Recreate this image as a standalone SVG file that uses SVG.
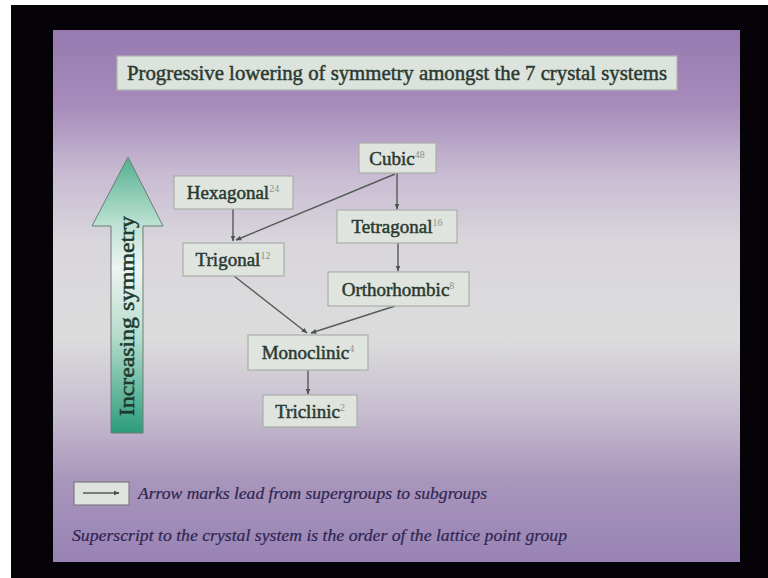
<svg xmlns="http://www.w3.org/2000/svg" width="768" height="578" viewBox="0 0 768 578">
  <defs>
    <linearGradient id="slideBg" x1="0" y1="0" x2="0" y2="1">
      <stop offset="0" stop-color="#967ab0"/>
      <stop offset="0.14" stop-color="#a68bbb"/>
      <stop offset="0.27" stop-color="#c8bbd2"/>
      <stop offset="0.4" stop-color="#d9d6dc"/>
      <stop offset="0.58" stop-color="#dcdcdc"/>
      <stop offset="0.72" stop-color="#c6bccf"/>
      <stop offset="0.85" stop-color="#a895bb"/>
      <stop offset="1" stop-color="#9883b4"/>
    </linearGradient>
    <linearGradient id="arrowFill" x1="0" y1="0" x2="0" y2="1">
      <stop offset="0" stop-color="#52b08f"/>
      <stop offset="0.25" stop-color="#bfe2d4"/>
      <stop offset="0.4" stop-color="#eef4f1"/>
      <stop offset="0.65" stop-color="#b5dccd"/>
      <stop offset="1" stop-color="#2b9c7a"/>
    </linearGradient>
    <marker id="head" viewBox="0 0 10 10" refX="9" refY="5" markerWidth="6" markerHeight="6" orient="auto" markerUnits="userSpaceOnUse">
      <path d="M0,1 L10,5 L0,9 z" fill="#4b524b"/>
    </marker>
    <style>
      .box { fill: #dfe5de; stroke: #a9ada9; stroke-width: 1.2; }
      .lbl { font-family: "Liberation Serif", "Times New Roman", serif; font-size: 19px; fill: #2b3a31; stroke: #2b3a31; stroke-width: 0.5; text-anchor: middle; }
      .sup { font-size: 10px; fill: #8a918a; stroke: none; }
      .edge { stroke: #555c55; stroke-width: 1.4; fill: none; marker-end: url(#head); }
      .note { font-family: "Liberation Serif", "DejaVu Serif", serif; font-style: italic; font-size: 16px; fill: #2f2652; stroke: #2f2652; stroke-width: 0.2; }
    </style>
  </defs>

  <!-- screen surround -->
  <rect x="0" y="0" width="768" height="578" fill="#ffffff"/>
  <rect x="11" y="5" width="757" height="573" fill="#050308"/>
  <!-- slide -->
  <rect x="53" y="30" width="687" height="532" fill="url(#slideBg)"/>

  <!-- title -->
  <g id="title">
    <rect x="117" y="56" width="560" height="34" fill="#dce3dc" stroke="#b0b3b0" stroke-width="1.2"/>
    <text x="397" y="80" text-anchor="middle" font-family="'Liberation Serif', 'Times New Roman', serif" font-size="20" fill="#2b3a31" stroke="#2b3a31" stroke-width="0.45" textLength="540" lengthAdjust="spacingAndGlyphs">Progressive lowering of symmetry amongst the 7 crystal systems</text>
  </g>

  <!-- big arrow -->
  <g id="symmetry-arrow">
    <path d="M128,157 L163,226 L143,226 L143,433 L111,433 L111,226 L92,226 Z" fill="url(#arrowFill)" stroke="#6d7d74" stroke-width="1"/>
    <text transform="translate(134,316) rotate(-90)" text-anchor="middle" font-family="'Liberation Serif', 'Times New Roman', serif" font-size="21" fill="#1d3a2d" stroke="#1d3a2d" stroke-width="0.5" textLength="200" lengthAdjust="spacingAndGlyphs">Increasing symmetry</text>
  </g>

  <!-- connectors -->
  <g id="connectors">
    <line class="edge" x1="397" y1="173" x2="397" y2="209"/>
    <line class="edge" x1="395" y1="174" x2="236" y2="240"/>
    <line class="edge" x1="233" y1="209" x2="233" y2="241"/>
    <line class="edge" x1="398" y1="243" x2="398" y2="271"/>
    <line class="edge" x1="234" y1="276" x2="307" y2="333"/>
    <line class="edge" x1="395" y1="306" x2="311" y2="333"/>
    <line class="edge" x1="308" y1="370" x2="308" y2="394"/>
  </g>

  <!-- nodes -->
  <g id="cubic">
    <rect class="box" x="359" y="143" width="77" height="30"/>
    <text class="lbl" x="397" y="165">Cubic<tspan class="sup" dy="-7">48</tspan></text>
  </g>
  <g id="hexagonal">
    <rect class="box" x="174" y="176" width="119" height="33"/>
    <text class="lbl" x="233" y="199">Hexagonal<tspan class="sup" dy="-7">24</tspan></text>
  </g>
  <g id="tetragonal">
    <rect class="box" x="337" y="210" width="120" height="33"/>
    <text class="lbl" x="397" y="233">Tetragonal<tspan class="sup" dy="-7">16</tspan></text>
  </g>
  <g id="trigonal">
    <rect class="box" x="183" y="243" width="101" height="33"/>
    <text class="lbl" x="233" y="266">Trigonal<tspan class="sup" dy="-7">12</tspan></text>
  </g>
  <g id="orthorhombic">
    <rect class="box" x="328" y="272" width="141" height="34"/>
    <text class="lbl" x="398" y="296">Orthorhombic<tspan class="sup" dy="-7">8</tspan></text>
  </g>
  <g id="monoclinic">
    <rect class="box" x="248" y="335" width="120" height="35"/>
    <text class="lbl" x="308" y="359">Monoclinic<tspan class="sup" dy="-7">4</tspan></text>
  </g>
  <g id="triclinic">
    <rect class="box" x="263" y="395" width="94" height="32"/>
    <text class="lbl" x="310" y="418">Triclinic<tspan class="sup" dy="-7">2</tspan></text>
  </g>

  <!-- legend -->
  <g id="legend">
    <rect x="74" y="482" width="55" height="23" fill="#dfe3df" stroke="#7d7a85" stroke-width="1.2"/>
    <line class="edge" x1="83" y1="493" x2="119" y2="493"/>
    <text class="note" x="138" y="499" textLength="349" lengthAdjust="spacingAndGlyphs">Arrow marks lead from supergroups to subgroups</text>
    <text class="note" x="72" y="541" textLength="495" lengthAdjust="spacingAndGlyphs">Superscript to the crystal system is the order of the lattice point group</text>
  </g>
</svg>
